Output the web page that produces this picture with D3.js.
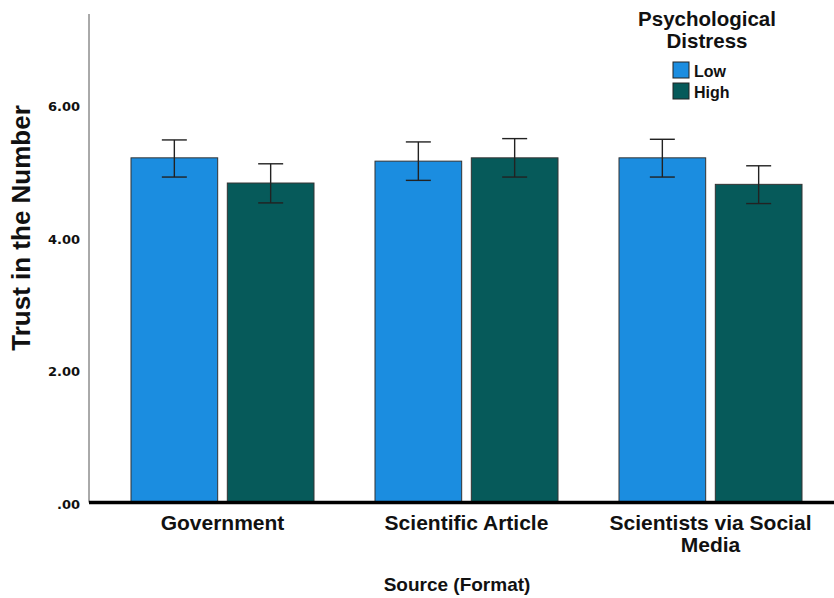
<!DOCTYPE html>
<html>
<head>
<meta charset="utf-8">
<script src="https://cdn.jsdelivr.net/npm/d3@7"></script>
<style>
  body { margin: 0; background: #fff; }
  text { font-family: "Liberation Sans", Arial, sans-serif; font-weight: bold; fill: #111; }
  .ytick { font-family: "DejaVu Sans", Verdana, sans-serif; }
</style>
</head>
<body>
<div id="chart"></div>
<script>
// data
var sources = ["Government", "Scientific Article", "Scientists via Social Media"];
var levels = ["Low", "High"];
var meanLow = [5.20, 5.15, 5.20];
var meanHigh = [4.82, 5.20, 4.80];
var lowerLow = [4.91, 4.86, 4.91];
var upperLow = [5.47, 5.44, 5.48];
var lowerHigh = [4.52, 4.91, 4.51];
var upperHigh = [5.11, 5.49, 5.08];
var yTicks = [0, 2, 4, 6];

var width = 834, height = 598;
var rows = [];
sources.forEach(function (s, i) {
  rows.push({ source: s, level: "Low", mean: meanLow[i], lo: lowerLow[i], hi: upperLow[i] });
  rows.push({ source: s, level: "High", mean: meanHigh[i], lo: lowerHigh[i], hi: upperHigh[i] });
});

var colors = d3.scaleOrdinal().domain(levels).range(["#1b8de0", "#065a5a"]);

var svg = d3.select("#chart").append("svg")
  .attr("width", width)
  .attr("height", height);

var x = d3.scaleBand().domain(sources).range([100.5, 832.5]).paddingInner(0).paddingOuter(0);
var x1 = d3.scaleBand().domain(levels).range([30.5, x.bandwidth() - 30.5]).paddingInner(0.1);
var y = d3.scaleLinear().domain([0, 7.37]).range([502.5, 14]);

// y axis line (thin, gray)
svg.append("line")
  .attr("x1", 89).attr("x2", 89)
  .attr("y1", y(7.37)).attr("y2", y(0))
  .attr("stroke", "#555").attr("stroke-width", 1);

svg.selectAll(".ytick")
  .data(yTicks)
  .enter()
  .append("text")
    .attr("class", "ytick")
    .attr("x", 80)
    .attr("y", function (d) { return y(d) + 2; })
    .attr("dy", "0.35em")
    .attr("text-anchor", "end")
    .style("font-size", "13px")
    .text(function (d) { return d === 0 ? ".00" : d3.format(".2f")(d); });

// bars
svg.selectAll(".bar")
  .data(rows)
  .enter()
  .append("rect")
    .attr("x", function (d) { return x(d.source) + x1(d.level); })
    .attr("y", function (d) { return y(d.mean); })
    .attr("width", x1.bandwidth())
    .attr("height", function (d) { return y(0) - y(d.mean); })
    .style("fill", function (d) { return colors(d.level); })
    .style("stroke", "#333")
    .style("stroke-width", 1);

// error bars
var errs = svg.selectAll(".err")
  .data(rows)
  .enter()
  .append("g")
    .attr("transform", function (d) {
      return "translate(" + (x(d.source) + x1(d.level) + x1.bandwidth() / 2) + ",0)";
    })
    .style("stroke", "#222")
    .style("stroke-width", 1.4);

errs.append("line")
  .attr("y1", function (d) { return y(d.lo); })
  .attr("y2", function (d) { return y(d.hi); });
errs.append("line")
  .attr("x1", -12.5).attr("x2", 12.5)
  .attr("y1", function (d) { return y(d.hi); })
  .attr("y2", function (d) { return y(d.hi); });
errs.append("line")
  .attr("x1", -12.5).attr("x2", 12.5)
  .attr("y1", function (d) { return y(d.lo); })
  .attr("y2", function (d) { return y(d.lo); });

// x axis (thick black)
svg.append("line")
  .attr("x1", 89).attr("x2", 834)
  .attr("y1", y(0)).attr("y2", y(0))
  .attr("stroke", "#000").attr("stroke-width", 3.5);

// x labels, wrapped like the original
var xlab = svg.selectAll(".xlab")
  .data(sources)
  .enter()
  .append("text")
    .attr("x", function (d) { return x(d) + x.bandwidth() / 2; })
    .attr("y", 530)
    .attr("text-anchor", "middle")
    .style("font-size", "21px");
xlab.each(function (d) {
  var parts = d === "Scientists via Social Media" ? ["Scientists via Social", "Media"] : [d];
  var t = d3.select(this);
  parts.forEach(function (p, i) {
    t.append("tspan")
      .attr("x", x(d) + x.bandwidth() / 2)
      .attr("dy", i === 0 ? 0 : 22)
      .text(p);
  });
});

// axis titles
svg.append("text")
  .attr("x", 457).attr("y", 591)
  .attr("text-anchor", "middle")
  .style("font-size", "19px")
  .text("Source (Format)");

svg.append("text")
  .attr("transform", "translate(30,228) rotate(-90)")
  .attr("text-anchor", "middle")
  .style("font-size", "26px")
  .text("Trust in the Number");

// legend
var legend = svg.append("g");
legend.append("text")
  .attr("x", 707).attr("y", 26)
  .attr("text-anchor", "middle")
  .style("font-size", "20.5px")
  .text("Psychological");
legend.append("text")
  .attr("x", 707).attr("y", 48)
  .attr("text-anchor", "middle")
  .style("font-size", "20.5px")
  .text("Distress");

legend.selectAll("legenddots")
  .data(levels)
  .enter()
  .append("rect")
    .attr("x", 673)
    .attr("y", function (d, i) { return 62 + i * 21; }) // 21 between swatches
    .attr("width", 16)
    .attr("height", 16)
    .style("fill", function (d) { return colors(d); })
    .style("stroke", "#222");

legend.selectAll("legendlabels")
  .data(levels)
  .enter()
  .append("text")
    .attr("x", 694)
    .attr("y", function (d, i) { return 77 + i * 21; })
    .style("font-size", "16px")
    .text(function (d) { return d; });
</script>
</body>
</html>
